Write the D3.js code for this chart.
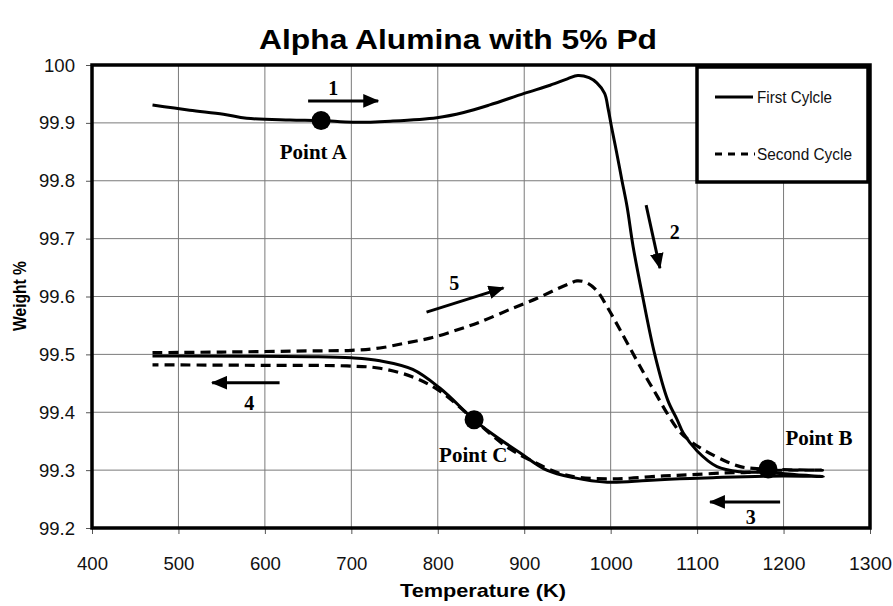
<!DOCTYPE html>
<html><head><meta charset="utf-8">
<script src="https://cdn.jsdelivr.net/npm/d3@7"></script>
<style>
body{margin:0;background:#fff;}
svg{display:block;}
.sans{font-family:"Liberation Sans Narrow","Arial Narrow","Liberation Sans",Arial,sans-serif;}
.serif{font-family:"Liberation Serif","Times New Roman",serif;font-weight:bold;}
</style></head>
<body>
<svg id="chart" width="893" height="606"></svg>
<script>
// ---- data ----
const xTicks = [400,500,600,700,800,900,1000,1100,1200,1300];
const yTicks = [99.2,99.3,99.4,99.5,99.6,99.7,99.8,99.9,100];
const yTickLabels = ["99.2","99.3","99.4","99.5","99.6","99.7","99.8","99.9","100"];

const cycle1Temp = [470,513,552,579,629,665,702,745,799,830,860,900,930,950,962,975,984,993,997,1001,1007,1013,1019,1026,1037,1051,1066,1077,1084,1100,1123,1150,1182,1215,1246,
                    1200,1118,1080,1042,996,957,926,895,860,842,803,771,733,700,656,505,470];
const cycle1Weight = [99.931,99.922,99.915,99.908,99.905,99.904,99.901,99.903,99.909,99.918,99.931,99.951,99.965,99.976,99.982,99.978,99.969,99.951,99.925,99.893,99.848,99.801,99.755,99.686,99.600,99.500,99.421,99.387,99.364,99.333,99.306,99.297,99.296,99.292,99.289,
                    99.290,99.287,99.285,99.282,99.279,99.287,99.300,99.330,99.366,99.387,99.441,99.474,99.489,99.494,99.496,99.497,99.497];

const cycle2Temp = [470,550,650,700,733,764,791,822,849,887,915,938,952,961,972,984,996,1011,1030,1042,1053,1065,1080,1095,1111,1135,1150,1165,1190,1245,
                    1211,1182,1158,1130,1092,1061,1022,1003,965,940,910,880,842,803,771,733,695,600,470];
const cycle2Weight = [99.503,99.504,99.506,99.507,99.511,99.520,99.528,99.542,99.556,99.580,99.597,99.613,99.622,99.627,99.624,99.610,99.582,99.542,99.490,99.458,99.430,99.399,99.366,99.347,99.332,99.314,99.306,99.303,99.301,99.300,
                    99.300,99.299,99.296,99.295,99.292,99.290,99.286,99.285,99.287,99.295,99.315,99.340,99.387,99.436,99.461,99.476,99.480,99.481,99.482];

const pointNames = ["Point A","Point B","Point C"];
const pointTemp = [665,1182,842];
const pointWeight = [99.904,99.302,99.387];
const pointLabelTemp = [656,1241,841];
const pointLabelWeight = [99.850,99.356,99.326];

const arrowLabels = ["1","2","3","4","5"];
const arrowFromT = [650,1041,1196,617,787];
const arrowFromW = [99.938,99.758,99.245,99.451,99.573];
const arrowToT = [731,1057,1115,539,876];
const arrowToW = [99.938,99.649,99.245,99.451,99.615];
const arrowLabelT = [679,1074,1162,582,819];
const arrowLabelW = [99.960,99.712,99.219,99.416,99.623];

const seriesNames = ["First Cylcle","Second Cycle"];

// ---- chart ----
const svg = d3.select("#chart");
const L=92,R=870,T=65,B=528;
const x = d3.scaleLinear().domain([400,1300]).range([L,R]);
const y = d3.scaleLinear().domain([99.2,100]).range([B,T]);

// grid
const grid = svg.append("g").attr("stroke","#7a7a7a").attr("stroke-width",1);
grid.selectAll(".v").data(xTicks.slice(1,-1)).join("line")
  .attr("x1",d=>x(d)).attr("x2",d=>x(d)).attr("y1",T).attr("y2",B);
grid.selectAll(".h").data(yTicks.slice(1,-1)).join("line")
  .attr("x1",L).attr("x2",R).attr("y1",d=>y(d)).attr("y2",d=>y(d));

// axes
const xAxis = svg.append("g").attr("transform",`translate(0,${B})`)
  .call(d3.axisBottom(x).tickValues(xTicks).tickSize(6).tickPadding(23).tickFormat(d3.format("d")));
const yAxis = svg.append("g").attr("transform",`translate(${L},0)`)
  .call(d3.axisLeft(y).tickValues(yTicks).tickSize(6).tickPadding(11).tickFormat((d,i)=>yTickLabels[i]));
[xAxis,yAxis].forEach(a=>{
  a.select(".domain").remove();
  a.selectAll(".tick line").attr("stroke","#555");
  a.selectAll(".tick text").attr("class","sans").attr("font-size",19).attr("fill","#111")
    .attr("lengthAdjust","spacingAndGlyphs")
    .attr("textLength",function(){const s=this.textContent; return s.length===4?(s.includes(".")?36:43):31;});
});

// frame
svg.append("rect").attr("x",L).attr("y",T).attr("width",R-L).attr("height",B-T)
  .attr("fill","none").attr("stroke","#000").attr("stroke-width",3.5);

// lines
const line = d3.line().x(d=>x(d[0])).y(d=>y(d[1])).curve(d3.curveCatmullRom.alpha(0.5));
svg.append("path").datum(cycle1Temp.map((t,i)=>[t,cycle1Weight[i]]))
  .attr("d",line).attr("fill","none").attr("stroke","#000").attr("stroke-width",3);
svg.append("path").datum(cycle2Temp.map((t,i)=>[t,cycle2Weight[i]]))
  .attr("d",line).attr("fill","none").attr("stroke","#000").attr("stroke-width",3.2)
  .attr("stroke-dasharray","10,6");

// points
svg.append("g").selectAll("circle").data(pointTemp).join("circle")
  .attr("cx",(d)=>x(d)).attr("cy",(d,i)=>y(pointWeight[i])).attr("r",9.5).attr("fill","#000");
svg.append("g").selectAll("text").data(pointNames).join("text")
  .attr("class","serif").attr("font-size",21).attr("text-anchor","middle").attr("dy","0.35em")
  .attr("x",(d,i)=>x(pointLabelTemp[i])).attr("y",(d,i)=>y(pointLabelWeight[i])).text(d=>d);

// arrows
svg.append("defs").append("marker").attr("id","ah").attr("markerUnits","userSpaceOnUse")
  .attr("viewBox","0 0 14 12").attr("refX",13).attr("refY",6).attr("markerWidth",16).attr("markerHeight",14)
  .attr("orient","auto").append("path").attr("d","M0,0L14,6L0,12Z").attr("fill","#000");
svg.append("g").selectAll("line").data(arrowLabels).join("line")
  .attr("x1",(d,i)=>x(arrowFromT[i])).attr("y1",(d,i)=>y(arrowFromW[i]))
  .attr("x2",(d,i)=>x(arrowToT[i])).attr("y2",(d,i)=>y(arrowToW[i]))
  .attr("stroke","#000").attr("stroke-width",3).attr("marker-end","url(#ah)");
svg.append("g").selectAll("text").data(arrowLabels).join("text")
  .attr("class","serif").attr("font-size",20).attr("text-anchor","middle").attr("dy","0.35em")
  .attr("x",(d,i)=>x(arrowLabelT[i])).attr("y",(d,i)=>y(arrowLabelW[i])).text(d=>d);

// legend
const lg = svg.append("g");
lg.append("rect").attr("x",697).attr("y",67).attr("width",171).attr("height",115)
  .attr("fill","#fff").attr("stroke","#000").attr("stroke-width",3.5);
lg.append("line").attr("x1",715).attr("x2",753).attr("y1",97).attr("y2",97).attr("stroke","#000").attr("stroke-width",3);
lg.append("line").attr("x1",715).attr("x2",755).attr("y1",154).attr("y2",154).attr("stroke","#000").attr("stroke-width",3).attr("stroke-dasharray","7,6");
lg.selectAll("text").data(seriesNames).join("text").attr("class","sans")
  .attr("font-size",16).attr("x",757).attr("y",(d,i)=>i?154:97).attr("dy","0.35em")
  .attr("textLength",(d,i)=>i?95:75).attr("lengthAdjust","spacingAndGlyphs").attr("fill","#111").text(d=>d);

// titles
svg.append("text").attr("class","sans").attr("font-weight","bold").attr("font-size",28)
  .attr("x",458).attr("y",49).attr("text-anchor","middle").attr("textLength",398).attr("lengthAdjust","spacingAndGlyphs")
  .text("Alpha Alumina with 5% Pd");
svg.append("text").attr("class","sans").attr("font-weight","bold").attr("font-size",19)
  .attr("x",483).attr("y",597).attr("text-anchor","middle").attr("textLength",166).attr("lengthAdjust","spacingAndGlyphs")
  .text("Temperature (K)");
svg.append("text").attr("class","sans").attr("font-weight","bold").attr("font-size",19)
  .attr("transform","translate(26,296) rotate(-90)").attr("text-anchor","middle").attr("textLength",70).attr("lengthAdjust","spacingAndGlyphs")
  .text("Weight %");
</script>
</body></html>
